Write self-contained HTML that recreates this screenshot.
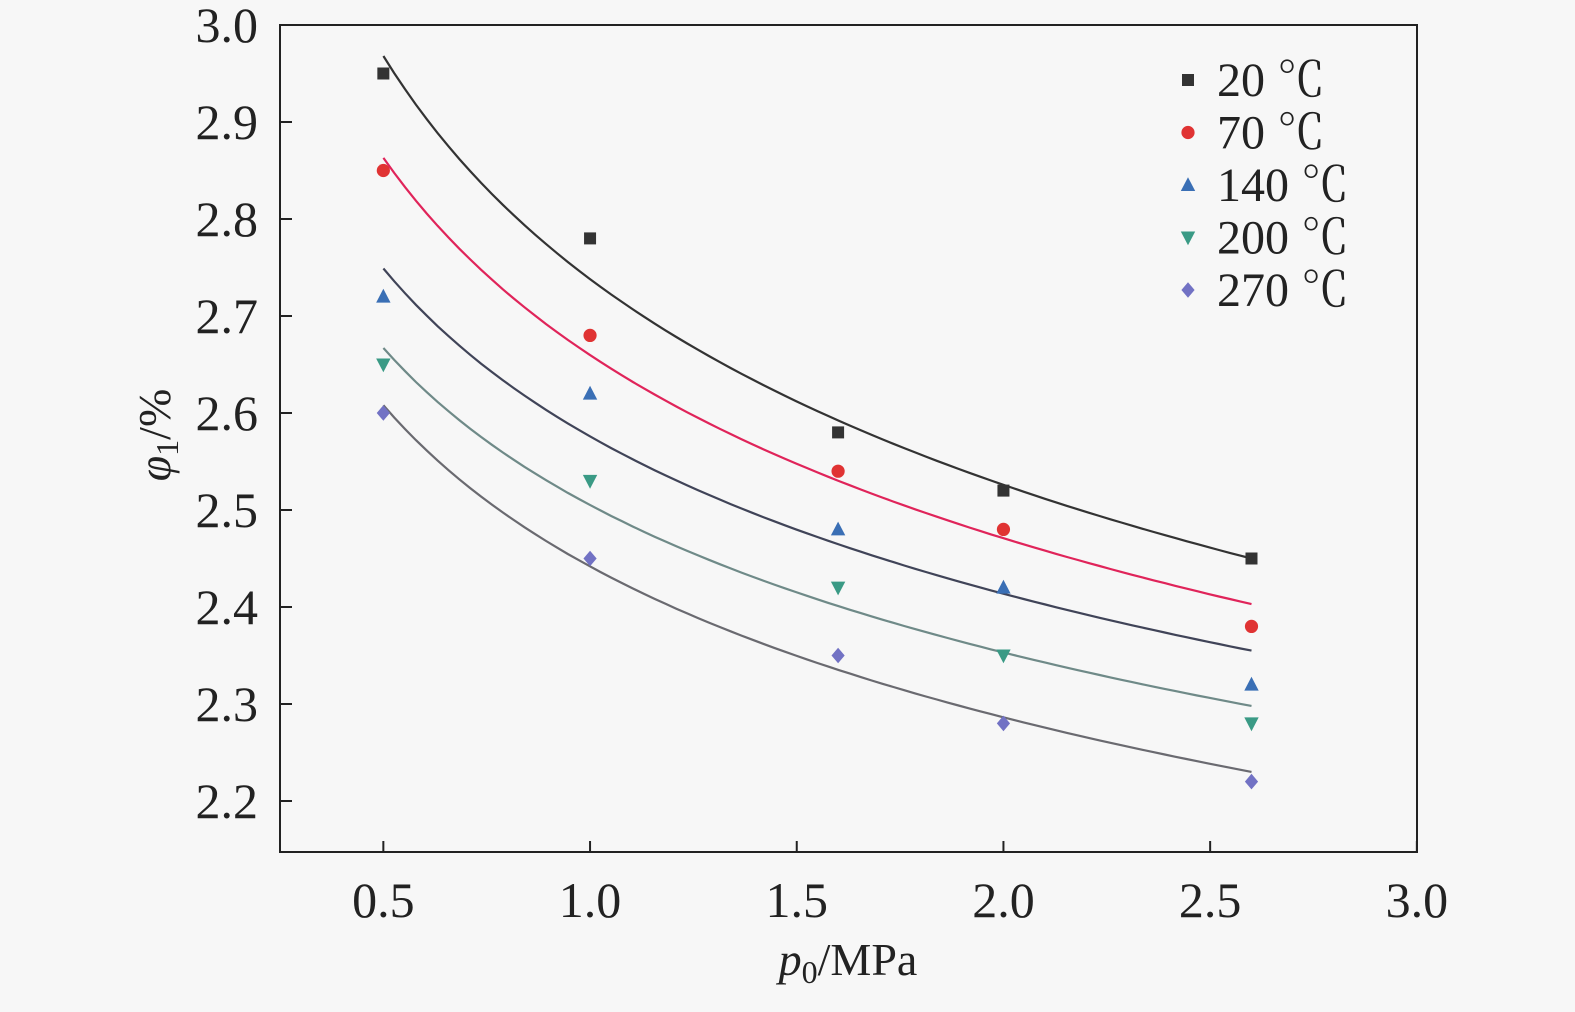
<!DOCTYPE html>
<html><head><meta charset="utf-8"><style>
body{margin:0;background:#f7f7f7}
svg text{font-family:"Liberation Serif","Noto Serif CJK SC",serif;fill:#222}
</style></head><body>
<svg id="chart" width="1575" height="1007" xmlns="http://www.w3.org/2000/svg">
<rect x="0" y="0" width="1575" height="1007" fill="#f7f7f7"/>
<rect x="280" y="25" width="1137" height="827" fill="none" stroke="#222" stroke-width="2"/>
<g id="axes"></g><g id="curves"></g><g id="points"></g><g id="legend"></g>
<text x="848" y="975" font-size="46" text-anchor="middle"><tspan font-style="italic">p</tspan><tspan font-size="32" dy="8">0</tspan><tspan dy="-8">/MPa</tspan></text>
<text transform="translate(170,435) rotate(-90)" font-size="46" text-anchor="middle"><tspan font-style="italic">φ</tspan><tspan font-size="32" dy="8">1</tspan><tspan dy="-8">/%</tspan></text>
</svg>
<script>
const xValues=[0.5,1.0,1.6,2.0,2.6];
const seriesNames=["20 ℃","70 ℃","140 ℃","200 ℃","270 ℃"];
const s20=[2.95,2.78,2.58,2.52,2.45];
const s70=[2.85,2.68,2.54,2.48,2.38];
const s140=[2.72,2.62,2.48,2.42,2.32];
const s200=[2.65,2.53,2.42,2.35,2.28];
const s270=[2.60,2.45,2.35,2.28,2.22];
const fitStart=[2.968,2.863,2.749,2.667,2.608];
const fitEnd=[2.45,2.403,2.355,2.298,2.230];
const xTicks=["0.5","1.0","1.5","2.0","2.5","3.0"];
const yTicks=["2.2","2.3","2.4","2.5","2.6","2.7","2.8","2.9","3.0"];
const series=[s20,s70,s140,s200,s270];
const markerColors=["#333333","#e03333","#3a6fb5","#3a9a85","#7272c4"];
const curveColors=["#333333","#e0245a","#404458","#6f8a88","#6a6a70"];
const shapes=["square","circle","tri","tri-down","diamond"];
const NS="http://www.w3.org/2000/svg";
const X=v=>280+(v-0.25)*413.4;
const Y=v=>25+(3.0-v)*970;
function mk(tag,attrs,parent){const e=document.createElementNS(NS,tag);for(const k in attrs)e.setAttribute(k,attrs[k]);parent.appendChild(e);return e;}
const axes=document.getElementById('axes');
xTicks.forEach(t=>{const x=X(parseFloat(t));
 const l=mk('line',{x1:x,x2:x,y1:852,y2:841,stroke:'#222','stroke-width':2},axes);
 
 const tx=mk('text',{x:x,y:917,'font-size':50,'text-anchor':'middle'},axes);tx.textContent=t;
 });
yTicks.forEach(t=>{const y=Y(parseFloat(t));
 const l=mk('line',{x1:280,x2:292,y1:y,y2:y,stroke:'#222','stroke-width':2},axes);
 
 const tx=mk('text',{x:258,y:y+17,'font-size':50,'text-anchor':'end'},axes);tx.textContent=t;
 });
function marker(shape,cx,cy,color,parent,s){
 let e;
 if(shape==='square')e=mk('rect',{x:cx-s,y:cy-s,width:2*s,height:2*s,fill:color},parent);
 else if(shape==='circle')e=mk('circle',{cx:cx,cy:cy,r:s*1.1,fill:color},parent);
 else if(shape==='tri')e=mk('polygon',{points:`${cx},${cy-s*1.3} ${cx-s*1.2},${cy+s} ${cx+s*1.2},${cy+s}`,fill:color},parent);
 else if(shape==='tri-down')e=mk('polygon',{points:`${cx},${cy+s*1.3} ${cx-s*1.2},${cy-s} ${cx+s*1.2},${cy-s}`,fill:color},parent);
 else e=mk('polygon',{points:`${cx},${cy-s*1.3} ${cx+s*1.1},${cy} ${cx},${cy+s*1.3} ${cx-s*1.1},${cy}`,fill:color},parent);
 return e;}
const cg=document.getElementById('curves'),pg=document.getElementById('points'),lg=document.getElementById('legend');
series.forEach((s,i)=>{
 const a=fitStart[i],b=Math.log(fitEnd[i]/a)/Math.log(2.6/0.5);
 let d='';for(let k=0;k<=80;k++){const x=0.5+2.1*k/80;const v=a*Math.pow(x/0.5,b);d+=(k?'L':'M')+X(x).toFixed(1)+','+Y(v).toFixed(1);}
 const p=mk('path',{d:d,fill:'none',stroke:curveColors[i],'stroke-width':2.2},cg);
 
 s.forEach((v,j)=>{const m=marker(shapes[i],X(xValues[j]),Y(v),markerColors[i],pg,6);
  });
 const ly=80+i*52.5;
 const lm=marker(shapes[i],1188,ly,markerColors[i],lg,6);
 
 const lt=mk('text',{x:1217,y:ly+16,'font-size':48},lg);lt.textContent=seriesNames[i];
 
});
</script>
</body></html>
